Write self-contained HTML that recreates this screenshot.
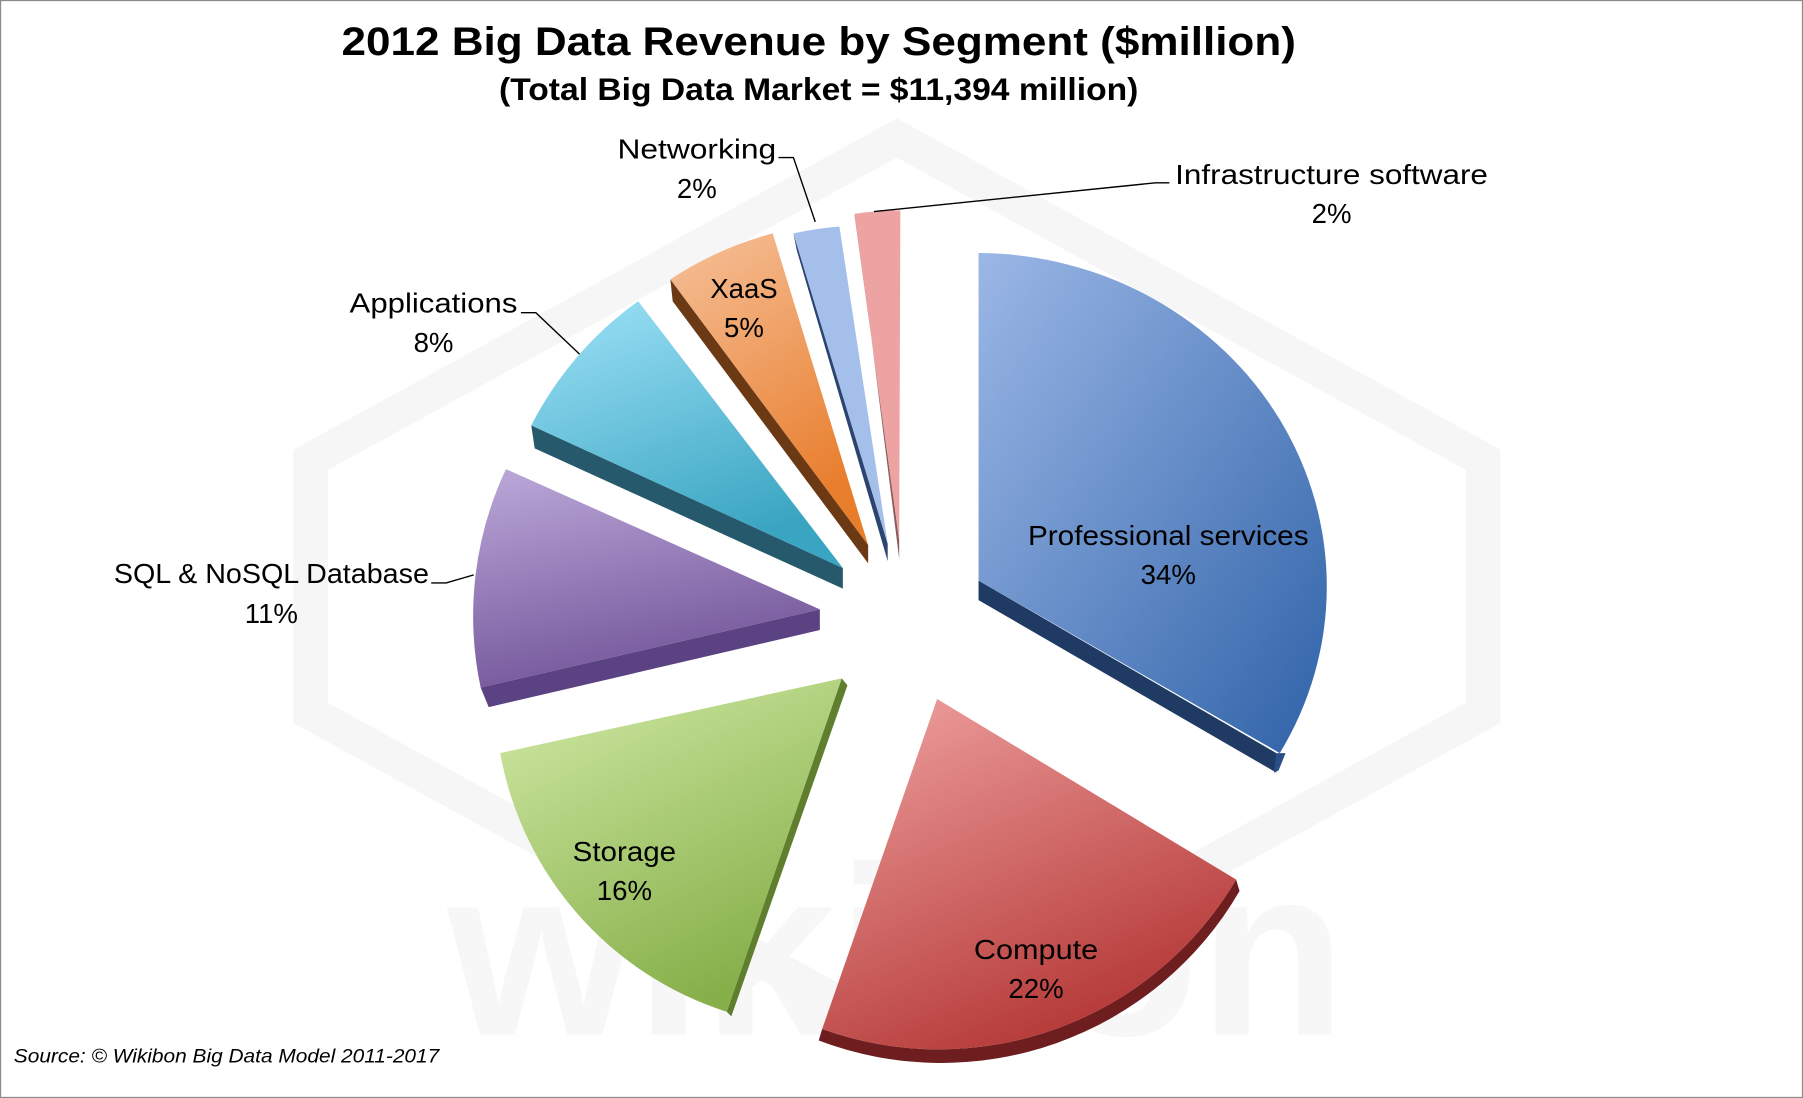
<!DOCTYPE html>
<html><head><style>html,body{margin:0;padding:0;background:#fff}svg{display:block}</style></head>
<body>
<svg width="1803" height="1098" viewBox="0 0 1568 955" preserveAspectRatio="none" xmlns="http://www.w3.org/2000/svg" font-family="Liberation Sans, sans-serif">
<defs>
<linearGradient id="gb" x1="0" y1="0" x2="1" y2="1"><stop offset="0" stop-color="#9bb7e6"/><stop offset="1" stop-color="#2f62a8"/></linearGradient>
<linearGradient id="gr" x1="0" y1="0" x2="0.5" y2="1"><stop offset="0" stop-color="#f0a3a2"/><stop offset="1" stop-color="#b53a38"/></linearGradient>
<linearGradient id="gg" x1="0" y1="0" x2="0.5" y2="1"><stop offset="0" stop-color="#d3eba8"/><stop offset="1" stop-color="#87b04a"/></linearGradient>
<linearGradient id="gp" x1="0" y1="0" x2="0.3" y2="1"><stop offset="0" stop-color="#bca9d9"/><stop offset="1" stop-color="#74579b"/></linearGradient>
<linearGradient id="gc" x1="0" y1="0" x2="0.4" y2="1"><stop offset="0" stop-color="#9ee2f7"/><stop offset="1" stop-color="#3aa5c2"/></linearGradient>
<linearGradient id="go" x1="0" y1="0" x2="0.4" y2="1"><stop offset="0" stop-color="#f6c19a"/><stop offset="1" stop-color="#e87d2c"/></linearGradient>
</defs>
<rect x="0.5" y="0.5" width="1567" height="954" fill="#fff" stroke="#8a8a8a"/>
<!-- watermark -->
<g fill="none" stroke="#f6f6f6" stroke-width="30">
<polygon points="780,120 1290,400 1290,620 780,900 270,620 270,400"/>
</g>
<text x="780" y="900" font-size="210" font-weight="bold" fill="#f7f7f7" text-anchor="middle">wikibon</text>
<text x="712" y="48" font-size="35" font-weight="bold" text-anchor="middle" textLength="830" lengthAdjust="spacingAndGlyphs">2012 Big Data Revenue by Segment  ($million)</text>
<text x="712" y="87" font-size="27" font-weight="bold" text-anchor="middle" textLength="556" lengthAdjust="spacingAndGlyphs">(Total Big Data Market = $11,394 million)</text>

<path d="M851,505 L1110,655 L1110,672 L851,522 Z" fill="#1f3a63"/>
<path d="M1110,655 L1118,655 L1112,670 L1108,672 Z" fill="#2a4e86"/>
<path d="M851,220 A305 290 0 0 1 1113,655 L851,505 Z" fill="url(#gb)"/>
<path d="M715,895 L712,905 A300 300 0 0 0 1078,775 L1075,765 A300 300 0 0 1 715,895Z" fill="#6e1e1e"/>
<path d="M815,608 L1075,765 A300 300 0 0 1 715,895 Z" fill="url(#gr)"/>
<path d="M632,880 L636,884 L737,596 L732,590 Z" fill="#5f7f2e"/>
<path d="M732,590 L435,655 A290 290 0 0 0 632,880 Z" fill="url(#gg)"/>
<path d="M418,598 L425,615 L713,548 L713,530 Z" fill="#5b4283"/>
<path d="M713,530 L440,408 A300 300 0 0 0 418,598 Z" fill="url(#gp)"/>
<path d="M462,370 L465,390 L733,512 L733,494 Z" fill="#25596b"/>
<path d="M733,494 L555,262 A300 300 0 0 0 462,370 Z" fill="url(#gc)"/>
<path d="M583,243 L585,262 L755,490 L755,474 Z" fill="#6b3a14"/>
<path d="M755,474 L672,203 A300 300 0 0 0 583,243 Z" fill="url(#go)"/>
<path d="M690,203 L693,218 L772,488 L772,473 Z" fill="#2c4470"/>
<path d="M772,473 L730,197 A300 300 0 0 0 690,203 Z" fill="#a4bfea"/>
<path d="M743,186 L746,200 L782,486 L782,470 Z" fill="#8a5a5a"/>
<path d="M782,470 L783,183 A300 300 0 0 0 743,186 Z" fill="#eea3a3"/>

<g stroke="#000" fill="none" stroke-width="1.2">
<polyline points="677,137 690,137 709,193"/>
<polyline points="1017,159 1005,159 760,184"/>
<polyline points="453,272 466,272 504,308"/>
<polyline points="375,507 388,507 412,500"/>
</g>
<g font-size="24" text-anchor="middle" fill="#000">
<text x="606" y="138" textLength="138" lengthAdjust="spacingAndGlyphs">Networking</text>
<text x="606" y="172">2%</text>
<text x="1158" y="160" textLength="272" lengthAdjust="spacingAndGlyphs">Infrastructure software</text>
<text x="1158" y="194">2%</text>
<text x="377" y="272" textLength="146" lengthAdjust="spacingAndGlyphs">Applications</text>
<text x="377" y="306">8%</text>
<text x="236" y="507" textLength="274" lengthAdjust="spacingAndGlyphs">SQL &amp; NoSQL Database</text>
<text x="236" y="542">11%</text>
<text x="647" y="259">XaaS</text>
<text x="647" y="293">5%</text>
<text x="1016" y="474" textLength="244" lengthAdjust="spacingAndGlyphs">Professional services</text>
<text x="1016" y="508">34%</text>
<text x="543" y="749" textLength="90" lengthAdjust="spacingAndGlyphs">Storage</text>
<text x="543" y="783">16%</text>
<text x="901" y="834" textLength="108" lengthAdjust="spacingAndGlyphs">Compute</text>
<text x="901" y="868">22%</text>
</g>
<text x="12" y="924" font-size="17" font-style="italic" textLength="370" lengthAdjust="spacingAndGlyphs">Source: © Wikibon Big Data Model 2011-2017</text>
</svg>
</body></html>
